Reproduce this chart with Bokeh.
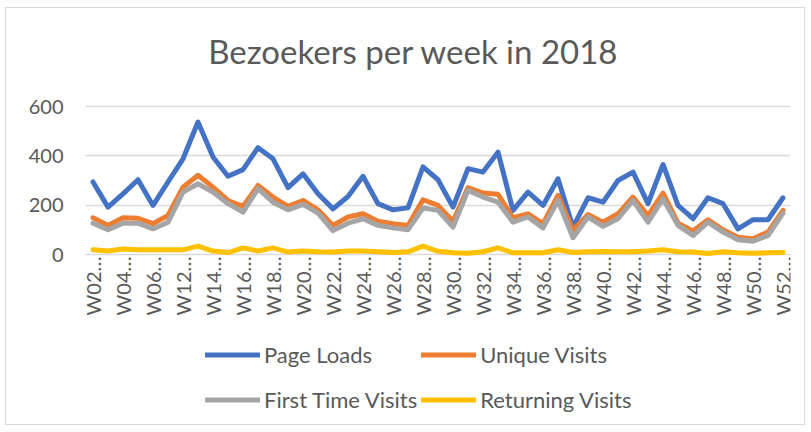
import math
from bokeh.plotting import figure
from bokeh.models import ColumnDataSource, Range1d, FixedTicker, Legend, LegendItem, Label
from bokeh.core.properties import value
from bokeh.embed import file_html
from bokeh.resources import INLINE

weeks = ["W02", "W03", "W04", "W05", "W06", "W07"] + ["W%02d" % n for n in range(12, 53)]

page_loads = [294, 192, 246, 303, 199, 294,
              388, 537, 395, 317, 344, 433, 388, 271, 327, 246, 185, 235, 317, 206, 181, 189, 355, 303,
              192, 348, 334, 415, 179, 253, 199, 307, 111, 230, 212, 300, 334, 206, 365, 199, 145, 230,
              206, 104, 141, 141, 230]
unique_visits = [149, 118, 149, 147, 125, 158,
                 273, 321, 273, 219, 195, 280, 233, 195, 219, 181, 118, 152, 165, 135, 125, 118, 222, 199,
                 135, 271, 249, 244, 149, 165, 125, 240, 97, 162, 131, 165, 233, 158, 249, 127, 95, 141,
                 100, 70, 64, 91, 179]
first_time_visits = [127, 100, 127, 127, 104, 131,
                     253, 287, 253, 206, 172, 267, 212, 181, 203, 168, 97, 127, 145, 118, 108, 100, 189, 179,
                     111, 260, 233, 212, 131, 152, 108, 219, 68, 152, 114, 145, 219, 131, 226, 118, 77, 131,
                     91, 60, 54, 77, 168]
returning_visits = [19, 14, 22, 19, 19, 19,
                    19, 34, 14, 8, 27, 14, 27, 10, 14, 11, 10, 14, 14, 11, 8, 11, 34, 13,
                    7, 5, 11, 27, 7, 7, 7, 19, 8, 11, 12, 11, 11, 14, 19, 11, 10, 4, 11, 7, 5, 7, 8]

series_names = ["Page Loads", "Unique Visits", "First Time Visits", "Returning Visits"]
series_colors = ["#4472C4", "#ED7D31", "#A5A5A5", "#FFC000"]
y_ticks = [0, 200, 400, 600]
title_text = "Bezoekers per week in 2018"

idx = list(range(len(weeks)))
source = ColumnDataSource(dict(x=idx, week=weeks, pl=page_loads, uv=unique_visits,
                               ft=first_time_visits, rv=returning_visits))
label_idx = idx[::2]
label_src = ColumnDataSource(dict(x=label_idx, y=[0] * len(label_idx),
                                  t=[weeks[i] + "\u2026" for i in label_idx]))

FONT = "Lato"
TXT = "#595959"

# ---- layout (page pixels) ----
W, H = 800, 418
CANVAS_LEFT, CANVAS_TOP = 6, 8
FRAME_LEFT, FRAME_RIGHT = 85, 790
FRAME_TOP, FRAME_BOTTOM = 10, 422
ZERO_PX, TOP_TICK_PX = 254, 106
TITLE_X_PX, TITLE_Y_PX = 413, 50

units_per_px = (max(y_ticks) - 0) / float(ZERO_PX - TOP_TICK_PX)
y_max = max(y_ticks) + (TOP_TICK_PX - FRAME_TOP) * units_per_px
y_min = 0 - (FRAME_BOTTOM - ZERO_PX) * units_per_px
x_lo, x_hi = -0.5, len(weeks) - 0.5
x_units_per_px = (x_hi - x_lo) / float(FRAME_RIGHT - FRAME_LEFT)

p = figure(width=W, height=H, x_range=Range1d(x_lo, x_hi), y_range=Range1d(y_min, y_max),
           output_backend="svg", toolbar_location=None,
           min_border_left=FRAME_LEFT - CANVAS_LEFT,
           min_border_right=CANVAS_LEFT + W - FRAME_RIGHT,
           min_border_top=FRAME_TOP - CANVAS_TOP,
           min_border_bottom=CANVAS_TOP + H - FRAME_BOTTOM)
p.styles = {"border": "1px solid #d9d9d9", "margin-left": "5px", "margin-top": "7px"}
p.outline_line_color = None

title = Label(x=x_lo + (TITLE_X_PX - FRAME_LEFT) * x_units_per_px,
              y=max(y_ticks) + (TOP_TICK_PX - TITLE_Y_PX) * units_per_px,
              text=title_text, text_align="center", text_baseline="middle",
              text_font=FONT, text_font_size="33px", text_color=TXT)
p.add_layout(title)

p.xaxis.visible = False
p.xgrid.grid_line_color = None
p.ygrid.grid_line_color = "#d9d9d9"
p.ygrid.grid_line_width = 1.3
p.yaxis.ticker = FixedTicker(ticks=y_ticks)
p.yaxis.axis_line_color = None
p.yaxis.major_tick_line_color = None
p.yaxis.minor_tick_line_color = None
p.yaxis.major_label_text_font = FONT
p.yaxis.major_label_text_font_size = "20px"
p.yaxis.major_label_text_color = TXT
p.yaxis.major_label_standoff = 16

# category axis labels, rotated, hanging below the zero line
p.text(x="x", y="y", text="t", source=label_src, angle=math.pi / 2, y_offset=2,
       text_align="right", text_baseline="middle", text_font=value(FONT),
       text_font_size="20px", text_color=TXT)

cols = ["pl", "uv", "ft", "rv"]
renderers = {}
for name, c, col in zip(series_names, cols, series_colors):
    renderers[name] = p.line("x", c, source=source, line_color=col, line_width=5,
                             line_join="round", line_cap="round")

# column-major fill: column 1 = Page Loads / First Time Visits, column 2 = Unique / Returning
legend_order = ["Page Loads", "First Time Visits", "Unique Visits", "Returning Visits"]
items = [LegendItem(label=n, renderers=[renderers[n]]) for n in legend_order]
legend = Legend(items=items, ncols=2, location=(120, 2),
                label_text_font=FONT, label_text_font_size="22px", label_text_color=TXT,
                glyph_width=55, glyph_height=41, label_standoff=4, spacing=4,
                padding=0, margin=0, border_line_color=None, background_fill_alpha=0)
p.add_layout(legend, "center")

open("out.html", "w").write(file_html(p, INLINE))
